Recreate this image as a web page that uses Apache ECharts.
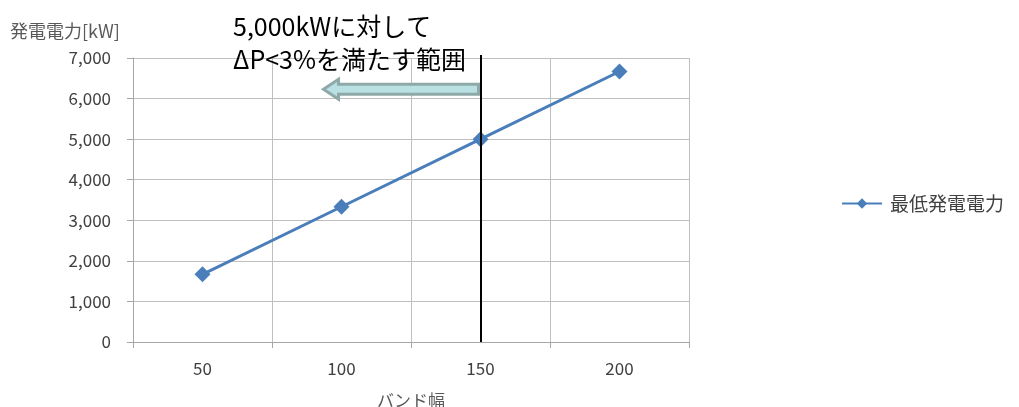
<!DOCTYPE html>
<html>
<head>
<meta charset="utf-8">
<style>
  html, body { margin: 0; padding: 0; background: #fff; }
  #chart { width: 1019px; height: 407px; }
</style>
<script src="https://cdn.jsdelivr.net/npm/echarts@6/dist/echarts.min.js"></script>
</head>
<body>
<div id="chart"></div>
<script>
// Band width categories and the minimum generated power for each
const bandWidths = ['50', '100', '150', '200'];
const minPower = [1667, 3333, 5000, 6667];
const seriesName = '最低発電電力';
const yTicks = { min: 0, max: 7000, interval: 1000 };
const thresholdBand = '150';
const arrowLevel = 6230;

const FONT = '"Noto Sans CJK JP", "Noto Sans", sans-serif';
const chart = echarts.init(document.getElementById('chart'), null, { renderer: 'canvas' });

const option = {
  animation: false,
  grid: { left: 133, right: 330, top: 58, bottom: 65, outerBoundsMode: 'none', containLabel: false },
  legend: {
    left: 836, top: 'middle', orient: 'vertical',
    data: [seriesName],
    itemWidth: 40, itemHeight: 13, itemGap: 6,
    textStyle: { fontFamily: FONT, fontSize: 19, color: '#404040', padding: [0, 0, 0, 3] }
  },
  xAxis: {
    type: 'category',
    data: bandWidths,
    boundaryGap: true,
    name: 'バンド幅',
    nameLocation: 'middle',
    nameGap: 50,
    nameTextStyle: { fontFamily: FONT, fontSize: 17, color: '#595959' },
    axisLine: { lineStyle: { color: '#a6a6a6', width: 1 } },
    axisTick: { show: true, alignWithLabel: false, length: 6, lineStyle: { color: '#a6a6a6' } },
    axisLabel: { fontFamily: FONT, fontSize: 17, color: '#404040', margin: 18 },
    splitLine: { show: true, lineStyle: { color: '#bfbfbf', width: 1 } }
  },
  yAxis: {
    type: 'value',
    min: yTicks.min, max: yTicks.max, interval: yTicks.interval,
    name: '発電電力[kW]',
    nameLocation: 'end',
    nameGap: 18,
    nameTextStyle: { fontFamily: FONT, fontSize: 18, color: '#595959', align: 'left', padding: [0, 0, 0, -123] },
    axisLine: { show: true, lineStyle: { color: '#a6a6a6', width: 1 } },
    axisTick: { show: true, length: 6, lineStyle: { color: '#a6a6a6' } },
    axisLabel: {
      fontFamily: FONT, fontSize: 17, color: '#404040', margin: 22,
      formatter: v => v.toLocaleString('en-US')
    },
    splitLine: { show: true, lineStyle: { color: '#bfbfbf', width: 1 } }
  },
  series: [{
    name: seriesName,
    type: 'line',
    data: minPower,
    symbol: 'diamond',
    symbolSize: 16,
    lineStyle: { color: '#4a7ebb', width: 3 },
    itemStyle: { color: '#4a7ebb' },
    markLine: {
      silent: true,
      symbol: 'none',
      label: { show: false },
      lineStyle: { color: '#000', width: 2, type: 'solid' },
      data: [[
        { coord: [thresholdBand, yTicks.min] },
        { coord: [thresholdBand, yTicks.max], y: 55 }
      ]]
    }
  }]
};
chart.setOption(option);

// Annotation: caption and arrow pointing from the threshold toward smaller bands
const right = chart.convertToPixel({ xAxisIndex: 0, yAxisIndex: 0 }, [thresholdBand, arrowLevel]);
const leftRef = chart.convertToPixel({ xAxisIndex: 0, yAxisIndex: 0 }, ['100', arrowLevel]);
const x1 = right[0] - 2, x0 = leftRef[0] - 18, yc = right[1];
const shaft = 5, head = 10, headLen = 15;
chart.setOption({
  graphic: [
    {
      type: 'polygon',
      shape: {
        points: [
          [x0, yc], [x0 + headLen, yc - head], [x0 + headLen, yc - shaft],
          [x1, yc - shaft], [x1, yc + shaft], [x0 + headLen, yc + shaft],
          [x0 + headLen, yc + head]
        ]
      },
      style: { fill: '#b9e0e3', stroke: '#8fa9a9', lineWidth: 3 },
      z: 10
    },
    {
      type: 'text', left: 233, top: 14, z: 11,
      style: { text: '5,000kWに対して', font: '25px ' + FONT, fill: '#000' }
    },
    {
      type: 'text', left: 233, top: 47, z: 11,
      style: { text: 'ΔP<3%を満たす範囲', font: '25px ' + FONT, fill: '#000' }
    }
  ]
});
</script>
</body>
</html>
